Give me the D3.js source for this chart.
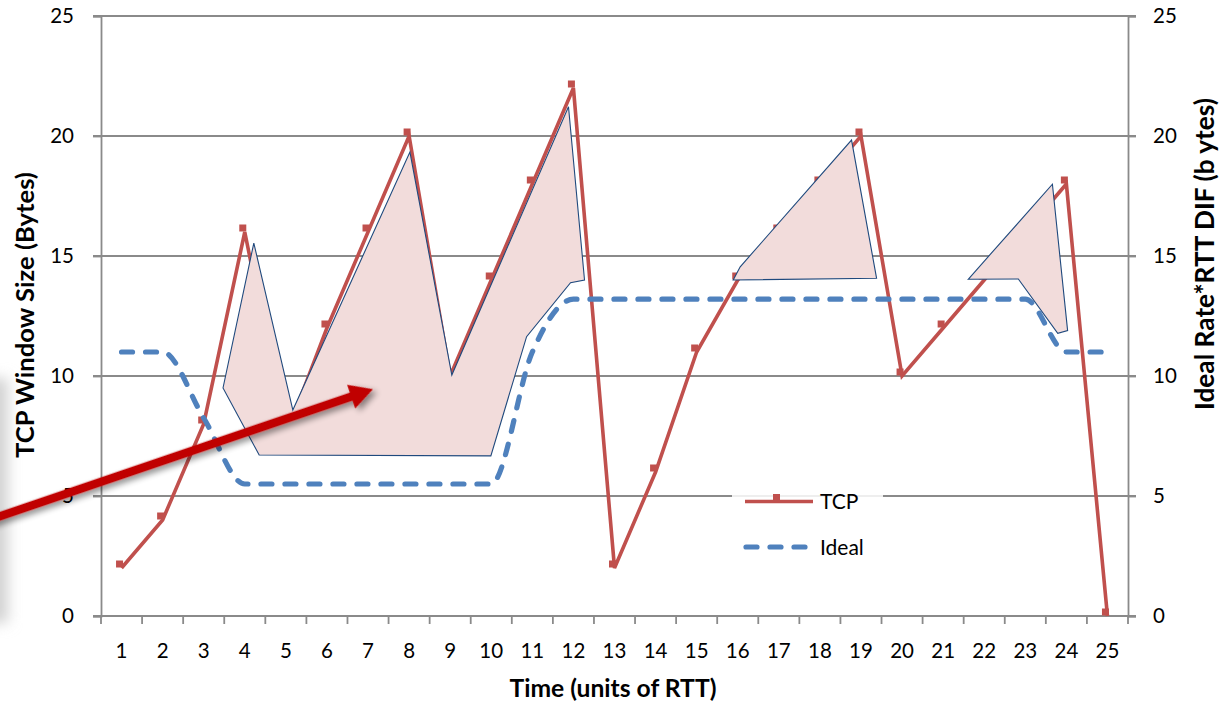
<!DOCTYPE html>
<html>
<head>
<meta charset="utf-8">
<script src="https://cdn.jsdelivr.net/npm/d3@7/dist/d3.min.js"></script>
<style>
  html, body { margin: 0; padding: 0; background: #fff; }
  svg { display: block; }
  text { font-family: Lato, "Noto Sans", sans-serif; fill: #000; }
</style>
</head>
<body>
<svg id="chart" width="1222" height="705"></svg>
<script>
// Time axis categories (units of RTT)
const times = d3.range(1, 26);
// TCP congestion window per RTT
const tcpValues = [2, 4, 8, 16, 7.5, 12, 16, 20, 10, 14, 18, 22, 2, 6, 11, 14, 16, 18, 20, 10, 12, 14, 16, 18, 0];
// Ideal rate * RTT per RTT
const idealValues = [11, 11, 8.25, 5.5, 5.5, 5.5, 5.5, 5.5, 5.5, 5.5, 11, 13.2, 13.2, 13.2, 13.2, 13.2, 13.2, 13.2, 13.2, 13.2, 13.2, 13.2, 13.2, 11, 11];
// Value axis ticks (both sides)
const yTicks = [0, 5, 10, 15, 20, 25];

// Highlighted regions, as [time, value] vertices
const regionA = [[3.47, 9.5], [4.22, 15.54], [5.17, 8.58], [8.02, 19.33], [9.04, 10.04], [11.88, 21.22],
                 [12.27, 14.0], [11.93, 13.89], [10.86, 11.64], [9.99, 6.67], [4.35, 6.71]];
const regionB = [[15.89, 14.0], [16.06, 14.55], [18.77, 19.83], [19.38, 14.07]];
const regionC = [[21.61, 14.03], [23.66, 17.99], [24.03, 11.89], [23.79, 11.78], [22.83, 14.04]];
// Pointer arrow, from [time, value] to [time, value]
const arrowFrom = [-2.4, 3.9];
const arrowTo = [7.12, 9.45];

const svg = d3.select("#chart");
const plot = { left: 101, right: 1128, top: 16, bottom: 616 };

const x = d3.scaleBand().domain(times).range([plot.left, plot.right]).padding(0);
const xc = d => x(d) + x.bandwidth() / 2;
// continuous time scale matching the band centres
const xt = d3.scaleLinear().domain([0.5, 25.5]).range([plot.left, plot.right]);
const y = d3.scaleLinear().domain([0, 25]).range([plot.bottom, plot.top]);

const gridColor = "#8a8a8a";
const defs = svg.append("defs");

// soft shadow filter for the arrow
const f = defs.append("filter").attr("id", "arrowShadow")
  .attr("x", "-20%").attr("y", "-50%").attr("width", "140%").attr("height", "200%");
f.append("feGaussianBlur").attr("in", "SourceAlpha").attr("stdDeviation", 3).attr("result", "b");
f.append("feOffset").attr("in", "b").attr("dx", 3).attr("dy", 4).attr("result", "o");
f.append("feComponentTransfer").attr("in", "o").attr("result", "s")
  .append("feFuncA").attr("type", "linear").attr("slope", 0.45);
const fm = f.append("feMerge");
fm.append("feMergeNode").attr("in", "s");
fm.append("feMergeNode").attr("in", "SourceGraphic");

const blur = defs.append("filter").attr("id", "edgeBlur")
  .attr("x", "-100%").attr("y", "-20%").attr("width", "300%").attr("height", "140%");
blur.append("feGaussianBlur").attr("stdDeviation", 7);

// faint shadow of a box cut off at the left edge
svg.append("rect").attr("x", -30).attr("y", 378).attr("width", 38).attr("height", 245)
  .attr("fill", "#d2d2d2").attr("filter", "url(#edgeBlur)");

// horizontal gridlines
svg.append("g").selectAll("line").data(yTicks).join("line")
  .attr("x1", plot.left - 8).attr("x2", plot.right + 8)
  .attr("y1", d => y(d)).attr("y2", d => y(d))
  .attr("stroke", gridColor).attr("stroke-width", 1.8);

// left value axis
const yl = svg.append("g").attr("transform", `translate(${plot.left},0)`)
  .call(d3.axisLeft(y).tickValues(yTicks).tickSize(8).tickPadding(19));
yl.select(".domain").attr("stroke", gridColor).attr("stroke-width", 1.8);
yl.selectAll(".tick line").attr("stroke", gridColor).attr("stroke-width", 1.8);
yl.selectAll("text").attr("font-size", 20.5).attr("font-family", "Lato").attr("fill", "#000");

// right value axis
const yr = svg.append("g").attr("transform", `translate(${plot.right},0)`)
  .call(d3.axisRight(y).tickValues(yTicks).tickSize(8).tickPadding(17));
yr.select(".domain").attr("stroke", gridColor).attr("stroke-width", 1.8);
yr.selectAll(".tick line").attr("stroke", gridColor).attr("stroke-width", 1.8);
yr.selectAll("text").attr("font-size", 20.5).attr("font-family", "Lato").attr("fill", "#000");

// time axis: labels at band centres, tick marks at band edges
const xa = svg.append("g").attr("transform", `translate(0,${plot.bottom})`)
  .call(d3.axisBottom(x).tickSize(0).tickPadding(27));
xa.select(".domain").remove();
xa.selectAll("text").attr("font-size", 20.5).attr("font-family", "Lato").attr("fill", "#000");
const edges = times.map(t => x(t)).concat([plot.right]);
svg.append("g").selectAll("line").data(edges).join("line")
  .attr("x1", d => d).attr("x2", d => d)
  .attr("y1", plot.bottom).attr("y2", plot.bottom + 8)
  .attr("stroke", gridColor).attr("stroke-width", 1.8);

// TCP series
const tcpLine = d3.line().x((d, i) => xc(times[i])).y(d => y(d));
svg.append("path").datum(tcpValues).attr("d", tcpLine)
  .attr("fill", "none").attr("stroke", "#c0504d").attr("stroke-width", 3.6)
  .attr("stroke-linejoin", "miter");
svg.append("g").attr("transform", "translate(-2,-4)")
  .selectAll("rect").data(tcpValues).join("rect")
  .attr("x", (d, i) => xc(times[i]) - 3.5).attr("y", d => y(d) - 3.5)
  .attr("width", 7).attr("height", 7).attr("fill", "#c0504d");

// highlighted regions
const poly = d3.line().x(d => xt(d[0])).y(d => y(d[1])).curve(d3.curveLinearClosed);
svg.append("g").selectAll("path").data([regionA, regionB, regionC]).join("path")
  .attr("d", poly).attr("fill", "#f2dcdb").attr("stroke", "#1f497d")
  .attr("stroke-width", 1.1).attr("stroke-linejoin", "miter");

// Ideal series
const idealLine = d3.line().x((d, i) => xc(times[i])).y(d => y(d)).curve(d3.curveMonotoneX);
svg.append("path").datum(idealValues).attr("d", idealLine)
  .attr("fill", "none").attr("stroke", "#4f81bd").attr("stroke-width", 5.2)
  .attr("stroke-dasharray", "11,13").attr("stroke-linecap", "round");

// legend
const lg = svg.append("g");
lg.append("rect").attr("x", 732).attr("y", 479).attr("width", 151).attr("height", 94)
  .attr("fill", "#fff").attr("opacity", 0.85);
lg.append("line").attr("x1", 745).attr("x2", 813).attr("y1", 501.5).attr("y2", 501.5)
  .attr("stroke", "#c0504d").attr("stroke-width", 3.6);
lg.append("rect").attr("x", 773).attr("y", 494).attr("width", 7).attr("height", 7).attr("fill", "#c0504d");
lg.append("text").attr("x", 820).attr("y", 509).attr("font-size", 21).text("TCP");
lg.append("line").attr("x1", 746).attr("x2", 808).attr("y1", 547).attr("y2", 547)
  .attr("stroke", "#4f81bd").attr("stroke-width", 5.2)
  .attr("stroke-dasharray", "11,13").attr("stroke-linecap", "round");
lg.append("text").attr("x", 820).attr("y", 555).attr("font-size", 21).text("Ideal");

// axis titles, sized to their span
function fit(sel, width, base) {
  sel.attr("font-size", base);
  const w = sel.node().getComputedTextLength();
  sel.attr("font-size", base * width / w);
}
const tx = svg.append("text").attr("x", 613).attr("y", 697).attr("text-anchor", "middle")
  .attr("font-weight", "bold").text("Time (units of RTT)");
fit(tx, 207, 18);
const tl = svg.append("text").attr("transform", "translate(34,315) rotate(-90)")
  .attr("text-anchor", "middle").attr("font-weight", "bold").text("TCP Window Size (Bytes)");
fit(tl, 286, 18);
const tr = svg.append("text").attr("transform", "translate(1214,254) rotate(-90)")
  .attr("text-anchor", "middle").attr("font-weight", "bold").text("Ideal Rate*RTT DIF (b ytes)");
fit(tr, 312, 18);

// pointer arrow
const p0 = [xt(arrowFrom[0]), y(arrowFrom[1])];
const p1 = [xt(arrowTo[0]), y(arrowTo[1])];
const ang = Math.atan2(p1[1] - p0[1], p1[0] - p0[0]);
const len = Math.hypot(p1[0] - p0[0], p1[1] - p0[1]);
const headL = 23, headW = 25, shaftW = 8.5;
const ag = svg.append("g").attr("filter", "url(#arrowShadow)")
  .attr("transform", `translate(${p0[0]},${p0[1]}) rotate(${ang * 180 / Math.PI})`);
ag.append("path")
  .attr("d", `M0,${-shaftW / 2}L${len - headL},${-shaftW / 2}L${len - headL},${-headW / 2}L${len},0` +
             `L${len - headL},${headW / 2}L${len - headL},${shaftW / 2}L0,${shaftW / 2}Z`)
  .attr("fill", "#c00000");
</script>
</body>
</html>
